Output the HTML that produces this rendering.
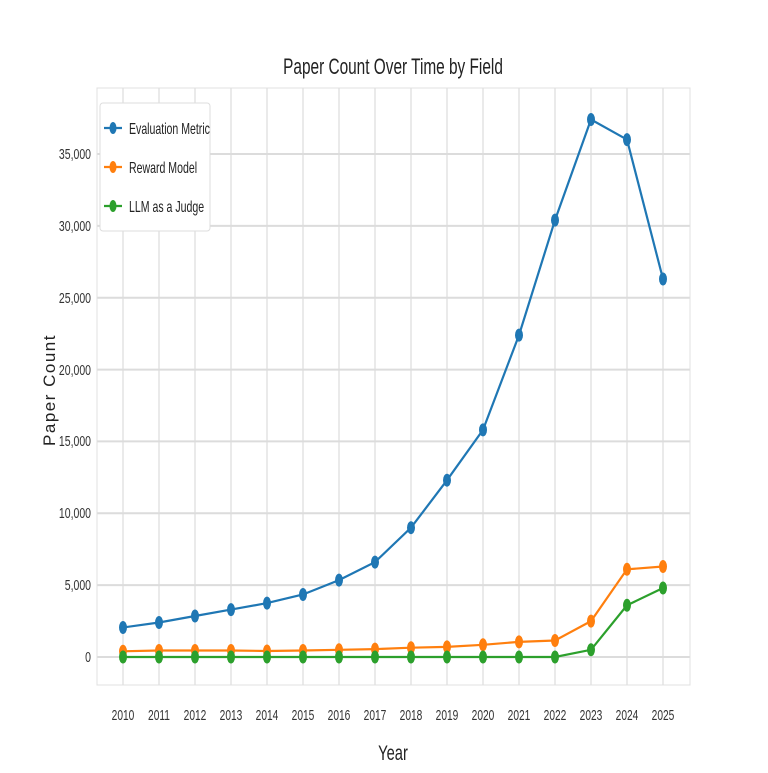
<!DOCTYPE html>
<html><head><style>body{margin:0;background:#fff}</style></head><body>
<svg width="768" height="768" xmlns="http://www.w3.org/2000/svg" font-family="Liberation Sans, DejaVu Sans, sans-serif">
<rect width="768" height="768" fill="#fff"/>
<g stroke="#dcdcdc" stroke-width="1.2">
<line x1="123" y1="88" x2="123" y2="685"/><line x1="159" y1="88" x2="159" y2="685"/><line x1="195" y1="88" x2="195" y2="685"/><line x1="231" y1="88" x2="231" y2="685"/><line x1="267" y1="88" x2="267" y2="685"/><line x1="303" y1="88" x2="303" y2="685"/><line x1="339" y1="88" x2="339" y2="685"/><line x1="375" y1="88" x2="375" y2="685"/><line x1="411" y1="88" x2="411" y2="685"/><line x1="447" y1="88" x2="447" y2="685"/><line x1="483" y1="88" x2="483" y2="685"/><line x1="519" y1="88" x2="519" y2="685"/><line x1="555" y1="88" x2="555" y2="685"/><line x1="591" y1="88" x2="591" y2="685"/><line x1="627" y1="88" x2="627" y2="685"/><line x1="663" y1="88" x2="663" y2="685"/>
</g>
<g stroke="#dcdcdc" stroke-width="2">
<line x1="97" y1="657" x2="690" y2="657"/><line x1="97" y1="585.1" x2="690" y2="585.1"/><line x1="97" y1="513.3" x2="690" y2="513.3"/><line x1="97" y1="441.4" x2="690" y2="441.4"/><line x1="97" y1="369.6" x2="690" y2="369.6"/><line x1="97" y1="297.7" x2="690" y2="297.7"/><line x1="97" y1="225.9" x2="690" y2="225.9"/><line x1="97" y1="154" x2="690" y2="154"/>
</g>
<rect x="97" y="88" width="593" height="597" fill="none" stroke="#e0e0e0" stroke-width="1"/>

<polyline fill="none" stroke="#1f77b4" stroke-width="2.2" points="123,627.5 159,622.5 195,616 231,609.6 267,603.1 303,594.5 339,580.1 375,562.1 411,527.7 447,480.2 483,429.9 519,335.1 555,220.1 591,119.5 627,139.6 663,279"/>
<polyline fill="none" stroke="#ff7f0e" stroke-width="2.2" points="123,651.3 159,650.5 195,650.5 231,650.5 267,651 303,650.5 339,649.8 375,649.1 411,647.7 447,646.9 483,644.8 519,641.9 555,640.5 591,621.1 627,569.3 663,566.5"/>
<polyline fill="none" stroke="#2ca02c" stroke-width="2.2" points="123,657 159,657 195,657 231,657 267,657 303,657 339,657 375,657 411,657 447,657 483,657 519,657 555,657 591,649.8 627,605.3 663,588"/>

<g fill="#1f77b4">
<ellipse cx="123" cy="627.5" rx="4" ry="6.5"/><ellipse cx="159" cy="622.5" rx="4" ry="6.5"/><ellipse cx="195" cy="616" rx="4" ry="6.5"/><ellipse cx="231" cy="609.6" rx="4" ry="6.5"/><ellipse cx="267" cy="603.1" rx="4" ry="6.5"/><ellipse cx="303" cy="594.5" rx="4" ry="6.5"/><ellipse cx="339" cy="580.1" rx="4" ry="6.5"/><ellipse cx="375" cy="562.1" rx="4" ry="6.5"/><ellipse cx="411" cy="527.7" rx="4" ry="6.5"/><ellipse cx="447" cy="480.2" rx="4" ry="6.5"/><ellipse cx="483" cy="429.9" rx="4" ry="6.5"/><ellipse cx="519" cy="335.1" rx="4" ry="6.5"/><ellipse cx="555" cy="220.1" rx="4" ry="6.5"/><ellipse cx="591" cy="119.5" rx="4" ry="6.5"/><ellipse cx="627" cy="139.6" rx="4" ry="6.5"/><ellipse cx="663" cy="279" rx="4" ry="6.5"/>
</g>
<g fill="#ff7f0e">
<ellipse cx="123" cy="651.3" rx="4" ry="6.5"/><ellipse cx="159" cy="650.5" rx="4" ry="6.5"/><ellipse cx="195" cy="650.5" rx="4" ry="6.5"/><ellipse cx="231" cy="650.5" rx="4" ry="6.5"/><ellipse cx="267" cy="651" rx="4" ry="6.5"/><ellipse cx="303" cy="650.5" rx="4" ry="6.5"/><ellipse cx="339" cy="649.8" rx="4" ry="6.5"/><ellipse cx="375" cy="649.1" rx="4" ry="6.5"/><ellipse cx="411" cy="647.7" rx="4" ry="6.5"/><ellipse cx="447" cy="646.9" rx="4" ry="6.5"/><ellipse cx="483" cy="644.8" rx="4" ry="6.5"/><ellipse cx="519" cy="641.9" rx="4" ry="6.5"/><ellipse cx="555" cy="640.5" rx="4" ry="6.5"/><ellipse cx="591" cy="621.1" rx="4" ry="6.5"/><ellipse cx="627" cy="569.3" rx="4" ry="6.5"/><ellipse cx="663" cy="566.5" rx="4" ry="6.5"/>
</g>
<g fill="#2ca02c">
<ellipse cx="123" cy="657" rx="4" ry="6.5"/><ellipse cx="159" cy="657" rx="4" ry="6.5"/><ellipse cx="195" cy="657" rx="4" ry="6.5"/><ellipse cx="231" cy="657" rx="4" ry="6.5"/><ellipse cx="267" cy="657" rx="4" ry="6.5"/><ellipse cx="303" cy="657" rx="4" ry="6.5"/><ellipse cx="339" cy="657" rx="4" ry="6.5"/><ellipse cx="375" cy="657" rx="4" ry="6.5"/><ellipse cx="411" cy="657" rx="4" ry="6.5"/><ellipse cx="447" cy="657" rx="4" ry="6.5"/><ellipse cx="483" cy="657" rx="4" ry="6.5"/><ellipse cx="519" cy="657" rx="4" ry="6.5"/><ellipse cx="555" cy="657" rx="4" ry="6.5"/><ellipse cx="591" cy="649.8" rx="4" ry="6.5"/><ellipse cx="627" cy="605.3" rx="4" ry="6.5"/><ellipse cx="663" cy="588" rx="4" ry="6.5"/>
</g>

<g font-size="15" fill="#333" text-anchor="middle">
<text transform="translate(123,720) scale(0.68,1)">2010</text><text transform="translate(159,720) scale(0.68,1)">2011</text><text transform="translate(195,720) scale(0.68,1)">2012</text><text transform="translate(231,720) scale(0.68,1)">2013</text><text transform="translate(267,720) scale(0.68,1)">2014</text><text transform="translate(303,720) scale(0.68,1)">2015</text><text transform="translate(339,720) scale(0.68,1)">2016</text><text transform="translate(375,720) scale(0.68,1)">2017</text><text transform="translate(411,720) scale(0.68,1)">2018</text><text transform="translate(447,720) scale(0.68,1)">2019</text><text transform="translate(483,720) scale(0.68,1)">2020</text><text transform="translate(519,720) scale(0.68,1)">2021</text><text transform="translate(555,720) scale(0.68,1)">2022</text><text transform="translate(591,720) scale(0.68,1)">2023</text><text transform="translate(627,720) scale(0.68,1)">2024</text><text transform="translate(663,720) scale(0.68,1)">2025</text>
</g>
<g font-size="15" fill="#333" text-anchor="end">
<text transform="translate(91,662) scale(0.7,1)">0</text><text transform="translate(91,590) scale(0.7,1)">5,000</text><text transform="translate(91,518) scale(0.7,1)">10,000</text><text transform="translate(91,446) scale(0.7,1)">15,000</text><text transform="translate(91,375) scale(0.7,1)">20,000</text><text transform="translate(91,303) scale(0.7,1)">25,000</text><text transform="translate(91,231) scale(0.7,1)">30,000</text><text transform="translate(91,159) scale(0.7,1)">35,000</text>
</g>

<text transform="translate(393,74) scale(0.7,1)" font-size="22" text-anchor="middle" fill="#222">Paper Count Over Time by Field</text>
<text transform="translate(393,760) scale(0.7,1)" font-size="21" text-anchor="middle" fill="#222">Year</text>
<text transform="translate(55,390) rotate(-90)" font-size="17" text-anchor="middle" letter-spacing="1.5" fill="#222">Paper Count</text>

<rect x="100" y="103" width="110" height="128" rx="3" fill="#fff" stroke="#ddd"/>
<line x1="104" y1="128" x2="122" y2="128" stroke="#1f77b4" stroke-width="2.2"/><ellipse cx="113" cy="128" rx="3.5" ry="6" fill="#1f77b4"/>
<text transform="translate(129,134) scale(0.66,1)" font-size="16" fill="#222">Evaluation Metric</text>
<line x1="104" y1="167" x2="122" y2="167" stroke="#ff7f0e" stroke-width="2.2"/><ellipse cx="113" cy="167" rx="3.5" ry="6" fill="#ff7f0e"/>
<text transform="translate(129,173) scale(0.66,1)" font-size="16" fill="#222">Reward Model</text>
<line x1="104" y1="206" x2="122" y2="206" stroke="#2ca02c" stroke-width="2.2"/><ellipse cx="113" cy="206" rx="3.5" ry="6" fill="#2ca02c"/>
<text transform="translate(129,212) scale(0.66,1)" font-size="16" fill="#222">LLM as a Judge</text>
</svg>
</body></html>
